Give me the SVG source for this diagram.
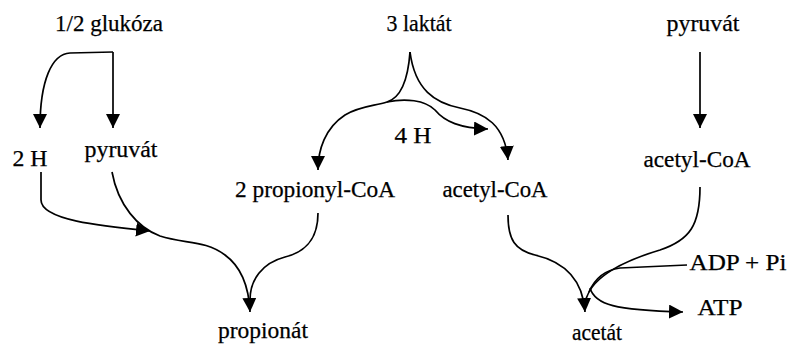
<svg xmlns="http://www.w3.org/2000/svg" width="791" height="345" viewBox="0 0 791 345">
<style>
text{font-family:"Liberation Serif","Times New Roman",serif;font-size:23px;fill:#000;stroke:#000;stroke-width:0.25;text-anchor:middle}
.c path{fill:none;stroke:#000;stroke-width:1.7}
.a{marker-end:url(#ah)}
</style>
<defs>
<marker id="ah" markerUnits="userSpaceOnUse" markerWidth="15" markerHeight="15" refX="14" refY="7" orient="auto">
<path d="M0,0 L14,7 L0,14 z" fill="#000"/>
</marker>
</defs>
<rect width="791" height="345" fill="#fff"/>
<g id="glukoza"><text x="109" y="31" textLength="108" lengthAdjust="spacingAndGlyphs">1/2 glukóza</text></g>
<g id="laktat"><text x="419" y="31" textLength="65" lengthAdjust="spacingAndGlyphs">3 laktát</text></g>
<g id="pyruvat2"><text x="703" y="31" textLength="73" lengthAdjust="spacingAndGlyphs">pyruvát</text></g>
<g id="h2"><text x="30" y="166" textLength="35" lengthAdjust="spacingAndGlyphs">2 H</text></g>
<g id="pyruvat1"><text x="121" y="157" textLength="73" lengthAdjust="spacingAndGlyphs">pyruvát</text></g>
<g id="h4"><text x="413" y="143" textLength="37" lengthAdjust="spacingAndGlyphs">4 H</text></g>
<g id="propionylcoa"><text x="315" y="197" textLength="160" lengthAdjust="spacingAndGlyphs">2 propionyl-CoA</text></g>
<g id="acetylcoa1"><text x="495" y="197" textLength="105" lengthAdjust="spacingAndGlyphs">acetyl-CoA</text></g>
<g id="acetylcoa2"><text x="697" y="167" textLength="107" lengthAdjust="spacingAndGlyphs">acetyl-CoA</text></g>
<g id="adp"><text x="738" y="270" textLength="97" lengthAdjust="spacingAndGlyphs">ADP + Pi</text></g>
<g id="atp"><text x="720" y="315" textLength="45" lengthAdjust="spacingAndGlyphs">ATP</text></g>
<g id="propionat"><text x="263" y="338" textLength="90" lengthAdjust="spacingAndGlyphs">propionát</text></g>
<g id="acetat"><text x="597" y="340" textLength="50" lengthAdjust="spacingAndGlyphs">acetát</text></g>
<g id="connectors" class="c">
<path class="a" d="M113,52 L70,53 C52,54 40,80 40,128"/>
<path class="a" d="M113,52 L113,128"/>
<path class="a" d="M41,172 L41,200 C41,220 100,226 150,231"/>
<path class="a" d="M112,172 C118,205 138,228 160,236 C185,244 205,240 225,255 C243,268 249,290 250,312"/>
<path d="M318,213 C318,240 305,252 285,257 C262,263 250,280 250,300"/>
<path class="a" d="M410,52 C408,80 400,98 387,102 C375,106 360,106 345,115 C325,128 318,150 318,170"/>
<path class="a" d="M387,102 C405,98 425,100 435,110 C445,122 460,128 488,129"/>
<path class="a" d="M410,52 C415,90 435,103 460,108 C485,113 505,125 508,160"/>
<path class="a" d="M508,215 C508,240 515,250 535,255 C565,262 583,280 585,312"/>
<path class="a" d="M700,52 L700,128"/>
<path d="M700,187 C700,225 690,240 660,250 C620,262 587,280 585,305"/>
<path d="M687,265 L620,268 C605,270 595,278 589,292"/>
<path class="a" d="M590,288 C595,305 615,310 683,312"/>
</g>
</svg>
